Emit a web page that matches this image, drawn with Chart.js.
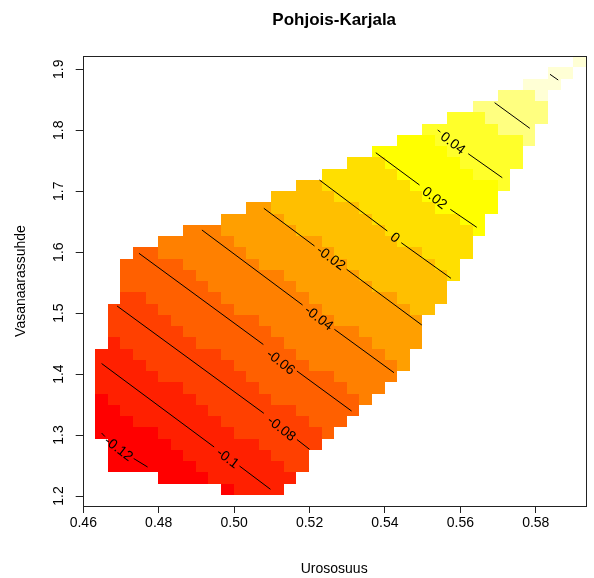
<!DOCTYPE html>
<html>
<head>
<meta charset="utf-8">
<script src="https://cdn.jsdelivr.net/npm/chart.js@4.4.1/dist/chart.umd.min.js"></script>
<style>
    html, body { margin: 0; padding: 0; background: #fff; }
    #caixa { width: 594px; height: 578px; }
</style>
</head>
<body>
<div id="caixa"><canvas id="graficoContorno" width="594" height="578"></canvas></div>
<script>
// ---- dados

// extensao da grade da imagem (Urososuus x Vasanaarassuhde)
const xRange = [0.45984, 0.59324];
const yRange = [1.1836, 1.9218];
const nColunas = 40;

// classe de cor (heat.colors, 0..b) por linha da grade, de cima para baixo
const rowStart = [39, 37, 35, 33, 31, 29, 27, 25, 23, 21, 19, 17, 15, 13, 11, 8, 6, 4, 3, 3,
                  3, 3, 2, 2, 2, 2, 1, 1, 1, 1, 1, 1, 1, 1, 2, 2, 2, 6, 11, 0];
const rowClasses = [
    'b',
    'bb',
    'bbb',
    'aaab',
    'aaaaaa',
    '999aaaaa',
    '999999aaa',
    '8889999999a',
    '888888999999',
    '77788888899999',
    '777777888888999',
    '66777777788888889',
    '666667777777888888',
    '55666666677777788888',
    '555556666666777777788',
    '444555555666666677777778',
    '4444445555555666666777777',
    '334444444555555566666667777',
    '333334444445555555666666677',
    '333333444444455555566666667',
    '33333334444444555555666666',
    '22333333444444455555556666',
    '22223333334444444555555566',
    '2222233333334444445555555',
    '2222223333333444444455555',
    '1222222333333344444445555',
    '1112222222333333444444455',
    '1111222222233333344444445',
    '111112222222333333344444',
    '11111112222223333333444',
    '0111111122222233333334',
    '001111111222222233333',
    '00011111112222222333',
    '0000011111122222223',
    '00000111111122222',
    '0000001111111222',
    '0000000111111122',
    '00001111111',
    '01111',
    ''
];

// linhas de contorno: pontos (null = espaco do rotulo)
const rotulos = ['-0.12', '-0.1', '-0.08', '-0.06', '-0.04', '-0.02', '0', '0.02', '0.04', '', ''];
const contornoX = [
    [0.46485, 0.46572, null, 0.47336, 0.47705],
    [0.46485, 0.49470, null, 0.50142, 0.50964],
    [0.46896, 0.50788, null, 0.51665, 0.52000],
    [0.47476, 0.50775, null, 0.51665, 0.53115],
    [0.49146, 0.51815, null, 0.52659, 0.54240],
    [0.50788, 0.52132, null, 0.52983, 0.54977],
    [0.52263, 0.54063, null, 0.54432, 0.55750],
    [0.53757, 0.54917, null, 0.55734, 0.56435],
    [0.55399, 0.55470, null, 0.56208, 0.57112],
    [0.56909, 0.57842],
    [0.58377, 0.58595]
];
const contornoY = [
    [1.30335, 1.29760, null, 1.26152, 1.24757],
    [1.41735, 1.28038, null, 1.24921, 1.21099],
    [1.51168, 1.33566, null, 1.29268, 1.27661],
    [1.59813, 1.44852, null, 1.40505, 1.33943],
    [1.63635, 1.51332, null, 1.47346, 1.40226],
    [1.67194, 1.61010, null, 1.57188, 1.48051],
    [1.71837, 1.63471, null, 1.61551, 1.55712],
    [1.76315, 1.71016, null, 1.67030, 1.64078],
    [1.80039, 1.79711, null, 1.76151, 1.72214],
    [1.84517, 1.80318],
    [1.89176, 1.88241]
];
const rotuloX = [0.46928, 0.49821, 0.51249, 0.51228, 0.52237, 0.52561, 0.54258, 0.55312, 0.55794, null, null];
const rotuloY = [1.27710, 1.26152, 1.30991, 1.41899, 1.49150, 1.58992, 1.62322, 1.68835, 1.77824, null, null];

const xTicks = [0.46, 0.48, 0.50, 0.52, 0.54, 0.56, 0.58];
const yTicks = [1.2, 1.3, 1.4, 1.5, 1.6, 1.7, 1.8, 1.9];

// ---- estilo
const heatColors = ['#FF0000', '#FF2000', '#FF4000', '#FF6000', '#FF8000', '#FF9F00',
                    '#FFBF00', '#FFDF00', '#FFFF00', '#FFFF2A', '#FFFF80', '#FFFFD5'];
const fonte = 'Liberation Sans, Arial, Helvetica, sans-serif';
Chart.defaults.font.family = fonte;
Chart.defaults.color = '#000';

// pinta as celulas da grade usando as escalas do grafico
const pluginCelulas = {
    id: 'celulas',
    beforeDatasetsDraw(chart) {
        const { ctx, scales: { x, y } } = chart;
        const dx = (xRange[1] - xRange[0]) / nColunas;
        const dy = (yRange[1] - yRange[0]) / rowClasses.length;
        ctx.save();
        rowClasses.forEach((linha, r) => {
            const yTopo = Math.round(y.getPixelForValue(yRange[1] - r * dy));
            const yBase = Math.round(y.getPixelForValue(yRange[1] - (r + 1) * dy));
            for (let i = 0; i < linha.length; i++) {
                const c = rowStart[r] + i;
                const x0 = Math.round(x.getPixelForValue(xRange[0] + c * dx));
                const x1 = Math.round(x.getPixelForValue(xRange[0] + (c + 1) * dx));
                ctx.fillStyle = heatColors[parseInt(linha[i], 16)];
                ctx.fillRect(x0, yTopo, x1 - x0, yBase - yTopo);
            }
        });
        ctx.restore();
    }
};

// rotulos dos contornos, inclinados ao longo da linha
const pluginRotulos = {
    id: 'rotulos',
    afterDatasetsDraw(chart) {
        const { ctx, scales: { x, y } } = chart;
        ctx.save();
        ctx.font = '14px ' + fonte;
        ctx.fillStyle = '#000';
        ctx.textAlign = 'center';
        ctx.textBaseline = 'middle';
        rotulos.forEach((txt, i) => {
            if (!txt) return;
            const ax = x.getPixelForValue(contornoX[i][1]), ay = y.getPixelForValue(contornoY[i][1]);
            const bx = x.getPixelForValue(contornoX[i][3]), by = y.getPixelForValue(contornoY[i][3]);
            const ang = Math.atan2(by - ay, bx - ax);
            ctx.save();
            ctx.translate(x.getPixelForValue(rotuloX[i]), y.getPixelForValue(rotuloY[i]));
            ctx.rotate(ang);
            ctx.fillText(txt, 0, 0);
            ctx.restore();
        });
        ctx.restore();
    }
};

// caixa em volta e rotulos do eixo y (na vertical, como no R)
const pluginCaixa = {
    id: 'caixa',
    afterDraw(chart) {
        const { ctx, chartArea: a, scales: { y } } = chart;
        ctx.save();
        ctx.strokeStyle = '#222';
        ctx.lineWidth = 1;
        ctx.strokeRect(Math.round(a.left) + 0.5, Math.round(a.top) + 0.5,
                       Math.round(a.right - a.left), Math.round(a.bottom - a.top));
        ctx.font = '14px ' + fonte;
        ctx.fillStyle = '#000';
        ctx.textAlign = 'center';
        ctx.textBaseline = 'middle';
        yTicks.forEach(v => {
            ctx.save();
            ctx.translate(59, y.getPixelForValue(v));
            ctx.rotate(-Math.PI / 2);
            ctx.fillText(v.toFixed(1), 0, 0);
            ctx.restore();
        });
        ctx.restore();
    }
};

const ctx = document.getElementById('graficoContorno').getContext('2d');
let graficoContorno = new Chart(ctx, {
    type: 'scatter',
    data: {
        datasets: rotulos.map((txt, i) => ({
            label: 'nivel ' + (txt || i),
            data: contornoX[i].map((v, j) => ({ x: v, y: contornoY[i][j] })),
            showLine: true,
            spanGaps: false,
            borderColor: '#000',
            borderWidth: 1,
            pointRadius: 0,
            fill: false
        }))
    },
    options: {
        responsive: false,
        animation: false,
        events: [],
        devicePixelRatio: 1,
        layout: { padding: { left: 0, right: 8.3, top: 0, bottom: 0 } },
        plugins: {
            legend: { display: false },
            tooltip: { enabled: false },
            title: {
                display: true,
                text: 'Pohjois-Karjala',
                fullSize: false,
                font: { size: 17, weight: 'bold' },
                color: '#000',
                padding: { top: 10, bottom: 25.6 }
            }
        },
        scales: {
            x: {
                type: 'linear',
                min: xRange[0],
                max: xRange[1],
                afterBuildTicks: s => { s.ticks = xTicks.map(v => ({ value: v })); },
                afterFit: s => { s.height = 72; },
                ticks: {
                    font: { size: 14, lineHeight: 1 },
                    padding: 3,
                    maxRotation: 0,
                    callback: v => Number(v).toFixed(2)
                },
                grid: { drawOnChartArea: false, drawTicks: true, tickLength: 7, color: '#222' },
                border: { display: false },
                title: { display: true, text: 'Urososuus', font: { size: 14 }, padding: { top: 0, bottom: 0 } }
            },
            y: {
                type: 'linear',
                min: yRange[0],
                max: yRange[1],
                afterBuildTicks: s => { s.ticks = yTicks.map(v => ({ value: v })); },
                afterFit: s => { s.width = 82.7; },
                ticks: { display: false },
                grid: { drawOnChartArea: false, drawTicks: true, tickLength: 7, color: '#222' },
                border: { display: false },
                title: { display: true, text: 'Vasanaarassuhde', font: { size: 14 }, padding: { top: 12.6, bottom: 0 } }
            }
        }
    },
    plugins: [pluginCelulas, pluginRotulos, pluginCaixa]
});
</script>
</body>
</html>
